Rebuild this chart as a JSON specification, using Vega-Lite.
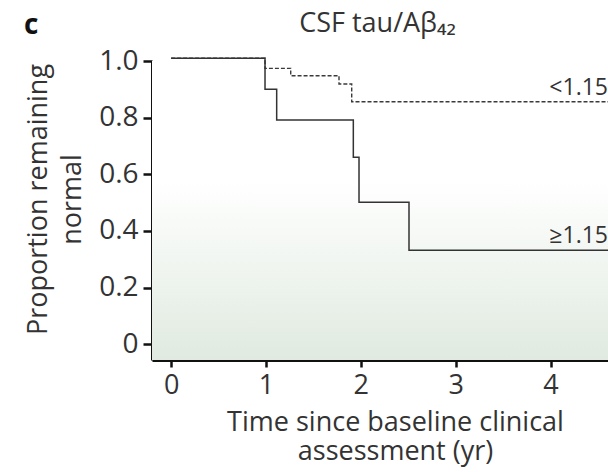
{
  "$schema": "https://vega.github.io/schema/vega-lite/v6.json",
  "width": 456,
  "height": 299,
  "autosize": "none",
  "padding": {"left": 152, "top": 61, "right": 0, "bottom": 112},
  "background": "white",
  "title": {"text": "c", "anchor": "start", "frame": "bounds", "fontSize": 28, "fontWeight": "bold", "font": "Open Sans", "color": "#111111", "baseline": "alphabetic", "offset": -53},
  "config": {"view": {"stroke": null}, "font": "Open Sans"},
  "datasets": {
    "curves": [
      {"group": "<1.15", "t": 0, "p": 1.01},
      {"group": "<1.15", "t": 0.99, "p": 0.974},
      {"group": "<1.15", "t": 1.261, "p": 0.948},
      {"group": "<1.15", "t": 1.77, "p": 0.919},
      {"group": "<1.15", "t": 1.904, "p": 0.856},
      {"group": "<1.15", "t": 4.606, "p": 0.856},
      {"group": "≥1.15", "t": 0, "p": 1.01},
      {"group": "≥1.15", "t": 0.99, "p": 0.9},
      {"group": "≥1.15", "t": 1.113, "p": 0.792},
      {"group": "≥1.15", "t": 1.921, "p": 0.66},
      {"group": "≥1.15", "t": 1.981, "p": 0.501},
      {"group": "≥1.15", "t": 2.508, "p": 0.332},
      {"group": "≥1.15", "t": 4.606, "p": 0.332}
    ],
    "labels": [
      {"label": "<1.15", "t": 4.606, "p": 0.856},
      {"label": "≥1.15", "t": 4.606, "p": 0.332}
    ]
  },
  "layer": [
    {
      "data": {"values": [{"panel": "background"}]},
      "mark": {"type": "rect", "color": {"gradient": "linear", "x1": 0, "y1": 0, "x2": 0, "y2": 1, "stops": [{"offset": 0, "color": "#ffffff"}, {"offset": 0.4, "color": "#ffffff"}, {"offset": 1, "color": "#e0eae0"}]}}
    },
    {
      "data": {"name": "curves"},
      "transform": [{"filter": "datum.group == '<1.15'"}],
      "mark": {"type": "line", "interpolate": "step-after", "color": "#3a3a3a", "strokeWidth": 1.4, "strokeDash": [4, 2]},
      "encoding": {
        "x": {"field": "t", "type": "quantitative", "scale": {"domain": [-0.2015, 4.606], "nice": false, "zero": false}, "axis": null},
        "y": {"field": "p", "type": "quantitative", "scale": {"domain": [-0.056, 1.0], "nice": false, "zero": false}}
      }
    },
    {
      "data": {"name": "curves"},
      "transform": [{"filter": "datum.group == '≥1.15'"}],
      "mark": {"type": "line", "interpolate": "step-after", "color": "#333333", "strokeWidth": 1.5},
      "encoding": {
        "x": {"field": "t", "type": "quantitative", "scale": {"domain": [-0.2015, 4.606], "nice": false, "zero": false},
          "axis": {"orient": "bottom", "values": [0, 1, 2, 3, 4], "grid": false, "domainColor": "#111111", "domainWidth": 3, "tickColor": "#111111", "tickWidth": 2.5, "tickSize": 7, "labelFontSize": 27, "labelColor": "#333333", "labelPadding": 5, "labelFont": "Open Sans", "title": ["Time since baseline clinical", "assessment (yr)"], "titleFont": "Open Sans", "titleFontSize": 27, "titleFontWeight": "normal", "titleColor": "#333333", "titleLineHeight": 29, "titleX": 243, "titleY": 70, "titleBaseline": "alphabetic", "titleAlign": "center", "titleAnchor": null}},
        "y": {"field": "p", "type": "quantitative", "scale": {"domain": [-0.056, 1.0], "nice": false, "zero": false},
          "axis": {"values": [0, 0.2, 0.4, 0.6, 0.8, 1.0], "labelExpr": "datum.value == 0 ? '0' : format(datum.value, '.1f')", "grid": false, "domainColor": "#111111", "domainWidth": 3, "tickColor": "#111111", "tickWidth": 2.5, "tickSize": 9, "labelFontSize": 28, "labelColor": "#333333", "labelPadding": 5, "labelFont": "Open Sans", "title": ["Proportion remaining", "normal"], "titleFont": "Open Sans", "titleFontSize": 27, "titleFontWeight": "normal", "titleColor": "#333333", "titleLineHeight": 34, "titleX": -106, "titleY": 138, "titleAngle": 270, "titleBaseline": "alphabetic", "titleAlign": "center"}}
      }
    },
    {
      "data": {"name": "labels"},
      "mark": {"type": "text", "align": "right", "baseline": "alphabetic", "dy": -7, "fontSize": 23, "color": "#333333", "font": "Open Sans"},
      "encoding": {
        "x": {"field": "t", "type": "quantitative", "scale": {"domain": [-0.2015, 4.606], "nice": false, "zero": false},
          "axis": {"orient": "top", "labels": false, "ticks": false, "domain": false, "grid": false, "title": "CSF tau/Aβ₄₂", "titleFont": "Open Sans", "titleFontSize": 27, "titleFontWeight": "normal", "titleColor": "#333333", "titleX": 225, "titleY": -30, "titleBaseline": "alphabetic", "titleAlign": "center", "titleAngle": 0}},
        "y": {"field": "p", "type": "quantitative", "scale": {"domain": [-0.056, 1.0], "nice": false, "zero": false}},
        "text": {"field": "label"}
      }
    }
  ],
  "resolve": {"axis": {"x": "independent"}}
}
